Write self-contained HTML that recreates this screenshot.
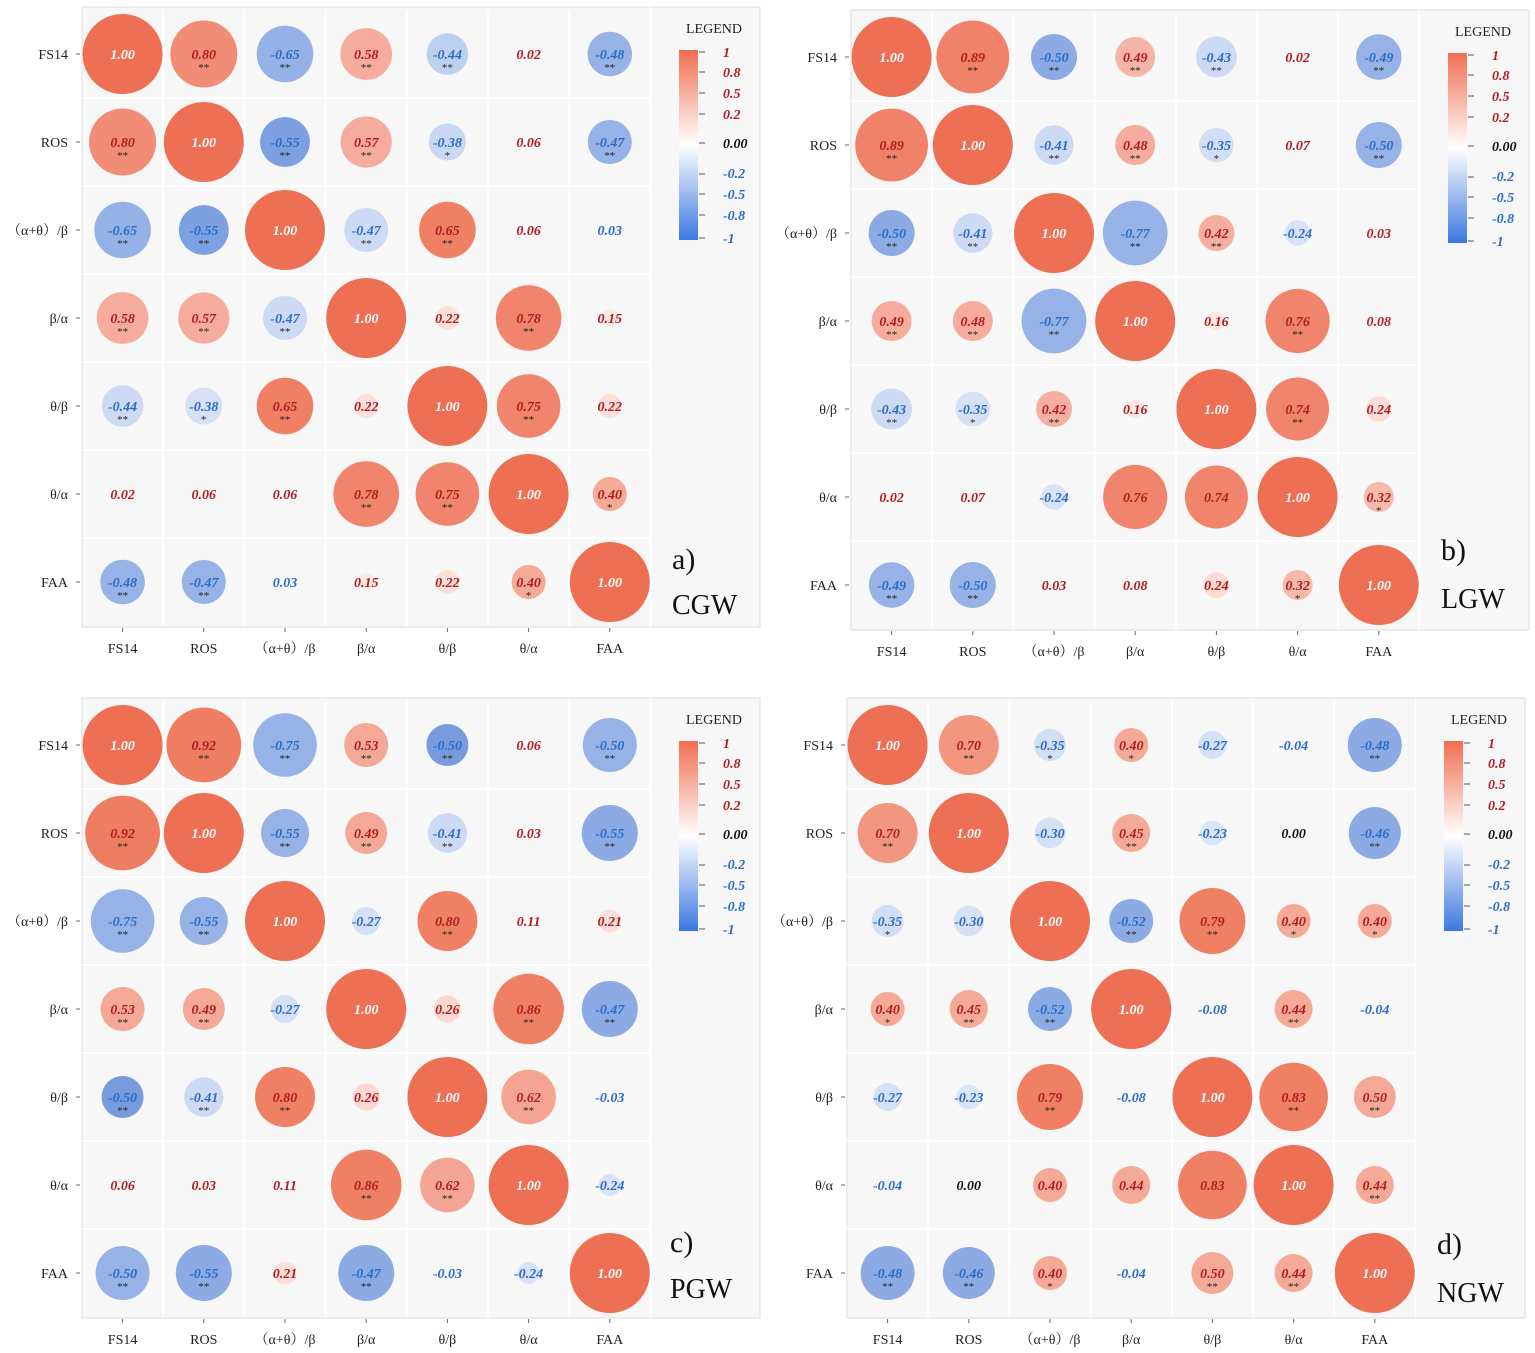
<!DOCTYPE html>
<html><head><meta charset="utf-8"><style>
body{margin:0;background:#fff;}
svg{display:block;font-family:"Liberation Serif","Noto Serif CJK SC",serif;}
.v{font-style:italic;font-weight:bold;font-size:14px;text-anchor:middle;}
.p{fill:#b01c22}.n{fill:#2a6cc6}.w{fill:#fff}.k{fill:#111}
.s{font-size:11px;text-anchor:middle;fill:#222}
.yl{font-size:14px;text-anchor:end;fill:#222}
.xl{font-size:14px;text-anchor:middle;fill:#222}
.lg{font-style:italic;font-weight:bold;font-size:14px}
.g{stroke:#fff;stroke-width:2}
</style></head><body>
<svg width="1535" height="1353" viewBox="0 0 1535 1353">
<defs>
<linearGradient id="cb" x1="0" y1="0" x2="0" y2="1">
<stop offset="0" stop-color="rgb(240,110,80)"/><stop offset="0.5" stop-color="#fff"/><stop offset="1" stop-color="rgb(60,120,225)"/>
</linearGradient>
<g id="frame">
<rect x="0" y="-3" width="678" height="620" fill="#f7f7f7" stroke="#ddd"/>
<g class="g"><line x1="81.2" y1="0" x2="81.2" y2="616"/><line x1="162.4" y1="0" x2="162.4" y2="616"/><line x1="243.6" y1="0" x2="243.6" y2="616"/><line x1="324.8" y1="0" x2="324.8" y2="616"/><line x1="406" y1="0" x2="406" y2="616"/><line x1="487.2" y1="0" x2="487.2" y2="616"/><line x1="568.4" y1="-3" x2="568.4" y2="617"/>
<line x1="0" y1="88" x2="568" y2="88"/><line x1="0" y1="176" x2="568" y2="176"/><line x1="0" y1="264" x2="568" y2="264"/><line x1="0" y1="352" x2="568" y2="352"/><line x1="0" y1="440" x2="568" y2="440"/><line x1="0" y1="528" x2="568" y2="528"/></g>
<g stroke="#666"><line x1="-6" y1="44" x2="-2" y2="44"/><line x1="-6" y1="132" x2="-2" y2="132"/><line x1="-6" y1="220" x2="-2" y2="220"/><line x1="-6" y1="308" x2="-2" y2="308"/><line x1="-6" y1="396" x2="-2" y2="396"/><line x1="-6" y1="484" x2="-2" y2="484"/><line x1="-6" y1="572" x2="-2" y2="572"/>
<line x1="40.6" y1="618" x2="40.6" y2="622"/><line x1="121.8" y1="618" x2="121.8" y2="622"/><line x1="203" y1="618" x2="203" y2="622"/><line x1="284.2" y1="618" x2="284.2" y2="622"/><line x1="365.4" y1="618" x2="365.4" y2="622"/><line x1="446.6" y1="618" x2="446.6" y2="622"/><line x1="527.8" y1="618" x2="527.8" y2="622"/></g>
<text class="yl" x="-14" y="49">FS14</text><text class="yl" x="-14" y="137">ROS</text><text class="yl" x="-14" y="225">（α+θ）/β</text><text class="yl" x="-14" y="313">β/α</text><text class="yl" x="-14" y="401">θ/β</text><text class="yl" x="-14" y="489">θ/α</text><text class="yl" x="-14" y="577">FAA</text>
<text class="xl" x="40.6" y="643">FS14</text><text class="xl" x="121.8" y="643">ROS</text><text class="xl" x="203" y="643">（α+θ）/β</text><text class="xl" x="284.2" y="643">β/α</text><text class="xl" x="365.4" y="643">θ/β</text><text class="xl" x="446.6" y="643">θ/α</text><text class="xl" x="527.8" y="643">FAA</text>
<text x="632" y="23" font-size="14" text-anchor="middle" fill="#222">LEGEND</text>
<rect x="597" y="40" width="19" height="190" fill="url(#cb)"/>
<g stroke="#555"><line x1="617" y1="42" x2="623" y2="42"/><line x1="617" y1="62" x2="623" y2="62"/><line x1="617" y1="83" x2="623" y2="83"/><line x1="617" y1="104" x2="623" y2="104"/><line x1="617" y1="133" x2="623" y2="133"/><line x1="617" y1="164" x2="623" y2="164"/><line x1="617" y1="184" x2="623" y2="184"/><line x1="617" y1="205" x2="623" y2="205"/><line x1="617" y1="228" x2="623" y2="228"/></g>
<text class="lg p" x="641" y="47">1</text><text class="lg p" x="641" y="67">0.8</text><text class="lg p" x="641" y="88">0.5</text><text class="lg p" x="641" y="109">0.2</text><text class="lg k" x="641" y="138">0.00</text><text class="lg n" x="641" y="168">-0.2</text><text class="lg n" x="641" y="189">-0.5</text><text class="lg n" x="641" y="210">-0.8</text><text class="lg n" x="641" y="233">-1</text>
</g>
</defs>

<!-- Panel A -->
<g transform="translate(82,10)">
<use href="#frame"/>
<text x="590" y="559" font-size="30" fill="#111">a)</text><text x="590" y="604" font-size="28" fill="#111">CGW</text>
<circle cx="40.6" cy="44" r="40" fill="rgb(238,112,84)"/><text class="v w" x="40.6" y="49">1.00</text>
<circle cx="121.8" cy="44" r="33.5" fill="rgb(241,140,118)"/><text class="v p" x="121.8" y="49">0.80</text><text class="s" x="121.8" y="61">**</text>
<circle cx="203" cy="44" r="28.3" fill="rgb(148,178,230)"/><text class="v n" x="203" y="49">-0.65</text><text class="s" x="203" y="61">**</text>
<circle cx="284.2" cy="44" r="25.9" fill="rgb(245,172,156)"/><text class="v p" x="284.2" y="49">0.58</text><text class="s" x="284.2" y="61">**</text>
<circle cx="365.4" cy="44" r="20.8" fill="rgb(190,208,240)"/><text class="v n" x="365.4" y="49">-0.44</text><text class="s" x="365.4" y="61">**</text>
<text class="v p" x="446.6" y="49">0.02</text>
<circle cx="527.8" cy="44" r="22.3" fill="rgb(150,178,230)"/><text class="v n" x="527.8" y="49">-0.48</text><text class="s" x="527.8" y="61">**</text>

<circle cx="40.6" cy="132" r="33.5" fill="rgb(241,140,118)"/><text class="v p" x="40.6" y="137">0.80</text><text class="s" x="40.6" y="149">**</text>
<circle cx="121.8" cy="132" r="40" fill="rgb(238,112,84)"/><text class="v w" x="121.8" y="137">1.00</text>
<circle cx="203" cy="132" r="24.9" fill="rgb(125,160,225)"/><text class="v n" x="203" y="137">-0.55</text><text class="s" x="203" y="149">**</text>
<circle cx="284.2" cy="132" r="25.6" fill="rgb(245,172,156)"/><text class="v p" x="284.2" y="137">0.57</text><text class="s" x="284.2" y="149">**</text>
<circle cx="365.4" cy="132" r="18.5" fill="rgb(200,215,242)"/><text class="v n" x="365.4" y="137">-0.38</text><text class="s" x="365.4" y="149">*</text>
<text class="v p" x="446.6" y="137">0.06</text>
<circle cx="527.8" cy="132" r="22" fill="rgb(150,178,230)"/><text class="v n" x="527.8" y="137">-0.47</text><text class="s" x="527.8" y="149">**</text>

<circle cx="40.6" cy="220" r="28.3" fill="rgb(148,178,230)"/><text class="v n" x="40.6" y="225">-0.65</text><text class="s" x="40.6" y="237">**</text>
<circle cx="121.8" cy="220" r="24.9" fill="rgb(125,160,225)"/><text class="v n" x="121.8" y="225">-0.55</text><text class="s" x="121.8" y="237">**</text>
<circle cx="203" cy="220" r="40" fill="rgb(238,112,84)"/><text class="v w" x="203" y="225">1.00</text>
<circle cx="284.2" cy="220" r="22" fill="rgb(205,218,243)"/><text class="v n" x="284.2" y="225">-0.47</text><text class="s" x="284.2" y="237">**</text>
<circle cx="365.4" cy="220" r="28.3" fill="rgb(240,128,100)"/><text class="v p" x="365.4" y="225">0.65</text><text class="s" x="365.4" y="237">**</text>
<text class="v p" x="446.6" y="225">0.06</text>
<text class="v n" x="527.8" y="225">0.03</text>

<circle cx="40.6" cy="308" r="25.9" fill="rgb(245,172,156)"/><text class="v p" x="40.6" y="313">0.58</text><text class="s" x="40.6" y="325">**</text>
<circle cx="121.8" cy="308" r="25.6" fill="rgb(245,172,156)"/><text class="v p" x="121.8" y="313">0.57</text><text class="s" x="121.8" y="325">**</text>
<circle cx="203" cy="308" r="22" fill="rgb(205,218,243)"/><text class="v n" x="203" y="313">-0.47</text><text class="s" x="203" y="325">**</text>
<circle cx="284.2" cy="308" r="40" fill="rgb(238,112,84)"/><text class="v w" x="284.2" y="313">1.00</text>
<circle cx="365.4" cy="308" r="11.9" fill="rgb(251,223,217)"/><text class="v p" x="365.4" y="313">0.22</text>
<circle cx="446.6" cy="308" r="32.8" fill="rgb(240,132,108)"/><text class="v p" x="446.6" y="313">0.78</text><text class="s" x="446.6" y="325">**</text>
<circle cx="527.8" cy="308" r="8.8" fill="rgb(252,233,229)"/><text class="v p" x="527.8" y="313">0.15</text>

<circle cx="40.6" cy="396" r="20.8" fill="rgb(205,218,243)"/><text class="v n" x="40.6" y="401">-0.44</text><text class="s" x="40.6" y="413">**</text>
<circle cx="121.8" cy="396" r="18.5" fill="rgb(215,225,245)"/><text class="v n" x="121.8" y="401">-0.38</text><text class="s" x="121.8" y="413">*</text>
<circle cx="203" cy="396" r="28.3" fill="rgb(240,128,100)"/><text class="v p" x="203" y="401">0.65</text><text class="s" x="203" y="413">**</text>
<circle cx="284.2" cy="396" r="11.9" fill="rgb(251,223,217)"/><text class="v p" x="284.2" y="401">0.22</text>
<circle cx="365.4" cy="396" r="40" fill="rgb(238,112,84)"/><text class="v w" x="365.4" y="401">1.00</text>
<circle cx="446.6" cy="396" r="31.8" fill="rgb(240,132,108)"/><text class="v p" x="446.6" y="401">0.75</text><text class="s" x="446.6" y="413">**</text>
<circle cx="527.8" cy="396" r="11.9" fill="rgb(251,223,217)"/><text class="v p" x="527.8" y="401">0.22</text>

<text class="v p" x="40.6" y="489">0.02</text>
<text class="v p" x="121.8" y="489">0.06</text>
<text class="v p" x="203" y="489">0.06</text>
<circle cx="284.2" cy="484" r="32.8" fill="rgb(240,132,108)"/><text class="v p" x="284.2" y="489">0.78</text><text class="s" x="284.2" y="501">**</text>
<circle cx="365.4" cy="484" r="31.8" fill="rgb(240,132,108)"/><text class="v p" x="365.4" y="489">0.75</text><text class="s" x="365.4" y="501">**</text>
<circle cx="446.6" cy="484" r="40" fill="rgb(238,112,84)"/><text class="v w" x="446.6" y="489">1.00</text>
<circle cx="527.8" cy="484" r="17" fill="rgb(244,170,150)"/><text class="v p" x="527.8" y="489">0.40</text><text class="s" x="527.8" y="501">*</text>

<circle cx="40.6" cy="572" r="22.3" fill="rgb(150,178,230)"/><text class="v n" x="40.6" y="577">-0.48</text><text class="s" x="40.6" y="589">**</text>
<circle cx="121.8" cy="572" r="22" fill="rgb(150,178,230)"/><text class="v n" x="121.8" y="577">-0.47</text><text class="s" x="121.8" y="589">**</text>
<text class="v n" x="203" y="577">0.03</text>
<circle cx="284.2" cy="572" r="8.8" fill="rgb(252,233,229)"/><text class="v p" x="284.2" y="577">0.15</text>
<circle cx="365.4" cy="572" r="11.9" fill="rgb(251,223,217)"/><text class="v p" x="365.4" y="577">0.22</text>
<circle cx="446.6" cy="572" r="17" fill="rgb(244,170,150)"/><text class="v p" x="446.6" y="577">0.40</text><text class="s" x="446.6" y="589">*</text>
<circle cx="527.8" cy="572" r="40" fill="rgb(238,112,84)"/><text class="v w" x="527.8" y="577">1.00</text>
</g>

<!-- Panel B -->
<g transform="translate(851,13)">
<use href="#frame"/>
<text x="590" y="547" font-size="30" fill="#111">b)</text><text x="590" y="595" font-size="28" fill="#111">LGW</text>
<circle cx="40.6" cy="44" r="40" fill="rgb(238,112,84)"/><text class="v w" x="40.6" y="49">1.00</text>
<circle cx="121.8" cy="44" r="36.4" fill="rgb(240,130,105)"/><text class="v p" x="121.8" y="49">0.89</text><text class="s" x="121.8" y="61">**</text>
<circle cx="203" cy="44" r="23" fill="rgb(140,170,228)"/><text class="v n" x="203" y="49">-0.50</text><text class="s" x="203" y="61">**</text>
<circle cx="284.2" cy="44" r="20" fill="rgb(246,180,166)"/><text class="v p" x="284.2" y="49">0.49</text><text class="s" x="284.2" y="61">**</text>
<circle cx="365.4" cy="44" r="20.4" fill="rgb(205,218,243)"/><text class="v n" x="365.4" y="49">-0.43</text><text class="s" x="365.4" y="61">**</text>
<text class="v p" x="446.6" y="49">0.02</text>
<circle cx="527.8" cy="44" r="22.7" fill="rgb(150,178,230)"/><text class="v n" x="527.8" y="49">-0.49</text><text class="s" x="527.8" y="61">**</text>

<circle cx="40.6" cy="132" r="36.4" fill="rgb(240,130,105)"/><text class="v p" x="40.6" y="137">0.89</text><text class="s" x="40.6" y="149">**</text>
<circle cx="121.8" cy="132" r="40" fill="rgb(238,112,84)"/><text class="v w" x="121.8" y="137">1.00</text>
<circle cx="203" cy="132" r="19.7" fill="rgb(205,218,243)"/><text class="v n" x="203" y="137">-0.41</text><text class="s" x="203" y="149">**</text>
<circle cx="284.2" cy="132" r="20" fill="rgb(245,172,156)"/><text class="v p" x="284.2" y="137">0.48</text><text class="s" x="284.2" y="149">**</text>
<circle cx="365.4" cy="132" r="17.3" fill="rgb(210,222,244)"/><text class="v n" x="365.4" y="137">-0.35</text><text class="s" x="365.4" y="149">*</text>
<text class="v p" x="446.6" y="137">0.07</text>
<circle cx="527.8" cy="132" r="23" fill="rgb(150,178,230)"/><text class="v n" x="527.8" y="137">-0.50</text><text class="s" x="527.8" y="149">**</text>

<circle cx="40.6" cy="220" r="23" fill="rgb(140,170,228)"/><text class="v n" x="40.6" y="225">-0.50</text><text class="s" x="40.6" y="237">**</text>
<circle cx="121.8" cy="220" r="19.7" fill="rgb(205,218,243)"/><text class="v n" x="121.8" y="225">-0.41</text><text class="s" x="121.8" y="237">**</text>
<circle cx="203" cy="220" r="40" fill="rgb(238,112,84)"/><text class="v w" x="203" y="225">1.00</text>
<circle cx="284.2" cy="220" r="32.4" fill="rgb(150,178,230)"/><text class="v n" x="284.2" y="225">-0.77</text><text class="s" x="284.2" y="237">**</text>
<circle cx="365.4" cy="220" r="18" fill="rgb(245,175,160)"/><text class="v p" x="365.4" y="225">0.42</text><text class="s" x="365.4" y="237">**</text>
<circle cx="446.6" cy="220" r="12.8" fill="rgb(217,227,247)"/><text class="v n" x="446.6" y="225">-0.24</text>
<text class="v p" x="527.8" y="225">0.03</text>

<circle cx="40.6" cy="308" r="20" fill="rgb(245,172,156)"/><text class="v p" x="40.6" y="313">0.49</text><text class="s" x="40.6" y="325">**</text>
<circle cx="121.8" cy="308" r="20" fill="rgb(245,172,156)"/><text class="v p" x="121.8" y="313">0.48</text><text class="s" x="121.8" y="325">**</text>
<circle cx="203" cy="308" r="32.4" fill="rgb(150,178,230)"/><text class="v n" x="203" y="313">-0.77</text><text class="s" x="203" y="325">**</text>
<circle cx="284.2" cy="308" r="40" fill="rgb(238,112,84)"/><text class="v w" x="284.2" y="313">1.00</text>
<circle cx="365.4" cy="308" r="9.2" fill="rgb(252,231,227)"/><text class="v p" x="365.4" y="313">0.16</text>
<circle cx="446.6" cy="308" r="32.1" fill="rgb(240,132,108)"/><text class="v p" x="446.6" y="313">0.76</text><text class="s" x="446.6" y="325">**</text>
<text class="v p" x="527.8" y="313">0.08</text>

<circle cx="40.6" cy="396" r="20.4" fill="rgb(205,218,243)"/><text class="v n" x="40.6" y="401">-0.43</text><text class="s" x="40.6" y="413">**</text>
<circle cx="121.8" cy="396" r="17.3" fill="rgb(215,225,245)"/><text class="v n" x="121.8" y="401">-0.35</text><text class="s" x="121.8" y="413">*</text>
<circle cx="203" cy="396" r="18" fill="rgb(245,175,160)"/><text class="v p" x="203" y="401">0.42</text><text class="s" x="203" y="413">**</text>
<circle cx="284.2" cy="396" r="9.2" fill="rgb(252,231,227)"/><text class="v p" x="284.2" y="401">0.16</text>
<circle cx="365.4" cy="396" r="40" fill="rgb(238,112,84)"/><text class="v w" x="365.4" y="401">1.00</text>
<circle cx="446.6" cy="396" r="31.5" fill="rgb(240,132,108)"/><text class="v p" x="446.6" y="401">0.74</text><text class="s" x="446.6" y="413">**</text>
<circle cx="527.8" cy="396" r="12.8" fill="rgb(251,220,213)"/><text class="v p" x="527.8" y="401">0.24</text>

<text class="v p" x="40.6" y="489">0.02</text>
<text class="v p" x="121.8" y="489">0.07</text>
<circle cx="203" cy="484" r="12.8" fill="rgb(217,227,247)"/><text class="v n" x="203" y="489">-0.24</text>
<circle cx="284.2" cy="484" r="32.1" fill="rgb(240,132,108)"/><text class="v p" x="284.2" y="489">0.76</text>
<circle cx="365.4" cy="484" r="31.5" fill="rgb(240,132,108)"/><text class="v p" x="365.4" y="489">0.74</text>
<circle cx="446.6" cy="484" r="40" fill="rgb(238,112,84)"/><text class="v w" x="446.6" y="489">1.00</text>
<circle cx="527.8" cy="484" r="15" fill="rgb(246,185,170)"/><text class="v p" x="527.8" y="489">0.32</text><text class="s" x="527.8" y="501">*</text>

<circle cx="40.6" cy="572" r="22.7" fill="rgb(150,178,230)"/><text class="v n" x="40.6" y="577">-0.49</text><text class="s" x="40.6" y="589">**</text>
<circle cx="121.8" cy="572" r="23" fill="rgb(150,178,230)"/><text class="v n" x="121.8" y="577">-0.50</text><text class="s" x="121.8" y="589">**</text>
<text class="v p" x="203" y="577">0.03</text>
<text class="v p" x="284.2" y="577">0.08</text>
<circle cx="365.4" cy="572" r="12.8" fill="rgb(251,220,213)"/><text class="v p" x="365.4" y="577">0.24</text>
<circle cx="446.6" cy="572" r="15" fill="rgb(246,185,170)"/><text class="v p" x="446.6" y="577">0.32</text><text class="s" x="446.6" y="589">*</text>
<circle cx="527.8" cy="572" r="40" fill="rgb(238,112,84)"/><text class="v w" x="527.8" y="577">1.00</text>
</g>

<!-- Panel C -->
<g transform="translate(82,701)">
<use href="#frame"/>
<text x="588" y="551" font-size="30" fill="#111">c)</text><text x="588" y="597" font-size="28" fill="#111">PGW</text>
<circle cx="40.6" cy="44" r="40" fill="rgb(238,112,84)"/><text class="v w" x="40.6" y="49">1.00</text>
<circle cx="121.8" cy="44" r="37.4" fill="rgb(239,125,98)"/><text class="v p" x="121.8" y="49">0.92</text><text class="s" x="121.8" y="61">**</text>
<circle cx="203" cy="44" r="31.8" fill="rgb(150,178,230)"/><text class="v n" x="203" y="49">-0.75</text><text class="s" x="203" y="61">**</text>
<circle cx="284.2" cy="44" r="22" fill="rgb(244,168,150)"/><text class="v p" x="284.2" y="49">0.53</text><text class="s" x="284.2" y="61">**</text>
<circle cx="365.4" cy="44" r="21" fill="rgb(120,155,222)"/><text class="v n" x="365.4" y="49">-0.50</text><text class="s" x="365.4" y="61">**</text>
<text class="v p" x="446.6" y="49">0.06</text>
<circle cx="527.8" cy="44" r="27" fill="rgb(150,178,230)"/><text class="v n" x="527.8" y="49">-0.50</text><text class="s" x="527.8" y="61">**</text>

<circle cx="40.6" cy="132" r="37.4" fill="rgb(239,125,98)"/><text class="v p" x="40.6" y="137">0.92</text><text class="s" x="40.6" y="149">**</text>
<circle cx="121.8" cy="132" r="40" fill="rgb(238,112,84)"/><text class="v w" x="121.8" y="137">1.00</text>
<circle cx="203" cy="132" r="24" fill="rgb(150,178,230)"/><text class="v n" x="203" y="137">-0.55</text><text class="s" x="203" y="149">**</text>
<circle cx="284.2" cy="132" r="21" fill="rgb(244,168,150)"/><text class="v p" x="284.2" y="137">0.49</text><text class="s" x="284.2" y="149">**</text>
<circle cx="365.4" cy="132" r="19.7" fill="rgb(205,218,243)"/><text class="v n" x="365.4" y="137">-0.41</text><text class="s" x="365.4" y="149">**</text>
<text class="v p" x="446.6" y="137">0.03</text>
<circle cx="527.8" cy="132" r="28" fill="rgb(140,170,228)"/><text class="v n" x="527.8" y="137">-0.55</text><text class="s" x="527.8" y="149">**</text>

<circle cx="40.6" cy="220" r="31.8" fill="rgb(150,178,230)"/><text class="v n" x="40.6" y="225">-0.75</text><text class="s" x="40.6" y="237">**</text>
<circle cx="121.8" cy="220" r="24" fill="rgb(150,178,230)"/><text class="v n" x="121.8" y="225">-0.55</text><text class="s" x="121.8" y="237">**</text>
<circle cx="203" cy="220" r="40" fill="rgb(238,112,84)"/><text class="v w" x="203" y="225">1.00</text>
<circle cx="284.2" cy="220" r="14" fill="rgb(212,224,246)"/><text class="v n" x="284.2" y="225">-0.27</text>
<circle cx="365.4" cy="220" r="30" fill="rgb(240,128,100)"/><text class="v p" x="365.4" y="225">0.80</text><text class="s" x="365.4" y="237">**</text>
<text class="v p" x="446.6" y="225">0.11</text>
<circle cx="527.8" cy="220" r="11.5" fill="rgb(251,224,218)"/><text class="v p" x="527.8" y="225">0.21</text>

<circle cx="40.6" cy="308" r="22" fill="rgb(244,168,150)"/><text class="v p" x="40.6" y="313">0.53</text><text class="s" x="40.6" y="325">**</text>
<circle cx="121.8" cy="308" r="21" fill="rgb(244,168,150)"/><text class="v p" x="121.8" y="313">0.49</text><text class="s" x="121.8" y="325">**</text>
<circle cx="203" cy="308" r="14" fill="rgb(212,224,246)"/><text class="v n" x="203" y="313">-0.27</text>
<circle cx="284.2" cy="308" r="40" fill="rgb(238,112,84)"/><text class="v w" x="284.2" y="313">1.00</text>
<circle cx="365.4" cy="308" r="13.6" fill="rgb(251,217,210)"/><text class="v p" x="365.4" y="313">0.26</text>
<circle cx="446.6" cy="308" r="35.3" fill="rgb(240,128,100)"/><text class="v p" x="446.6" y="313">0.86</text><text class="s" x="446.6" y="325">**</text>
<circle cx="527.8" cy="308" r="28" fill="rgb(140,170,228)"/><text class="v n" x="527.8" y="313">-0.47</text><text class="s" x="527.8" y="325">**</text>

<circle cx="40.6" cy="396" r="21" fill="rgb(120,155,222)"/><text class="v n" x="40.6" y="401">-0.50</text><text class="s" x="40.6" y="413">**</text>
<circle cx="121.8" cy="396" r="19.7" fill="rgb(205,218,243)"/><text class="v n" x="121.8" y="401">-0.41</text><text class="s" x="121.8" y="413">**</text>
<circle cx="203" cy="396" r="30" fill="rgb(240,128,100)"/><text class="v p" x="203" y="401">0.80</text><text class="s" x="203" y="413">**</text>
<circle cx="284.2" cy="396" r="13.6" fill="rgb(251,217,210)"/><text class="v p" x="284.2" y="401">0.26</text>
<circle cx="365.4" cy="396" r="40" fill="rgb(238,112,84)"/><text class="v w" x="365.4" y="401">1.00</text>
<circle cx="446.6" cy="396" r="27.3" fill="rgb(244,164,147)"/><text class="v p" x="446.6" y="401">0.62</text><text class="s" x="446.6" y="413">**</text>
<text class="v n" x="527.8" y="401">-0.03</text>

<text class="v p" x="40.6" y="489">0.06</text>
<text class="v p" x="121.8" y="489">0.03</text>
<text class="v p" x="203" y="489">0.11</text>
<circle cx="284.2" cy="484" r="35.3" fill="rgb(240,128,100)"/><text class="v p" x="284.2" y="489">0.86</text><text class="s" x="284.2" y="501">**</text>
<circle cx="365.4" cy="484" r="27.3" fill="rgb(244,164,147)"/><text class="v p" x="365.4" y="489">0.62</text><text class="s" x="365.4" y="501">**</text>
<circle cx="446.6" cy="484" r="40" fill="rgb(238,112,84)"/><text class="v w" x="446.6" y="489">1.00</text>
<circle cx="527.8" cy="484" r="11" fill="rgb(217,227,247)"/><text class="v n" x="527.8" y="489">-0.24</text>

<circle cx="40.6" cy="572" r="27" fill="rgb(150,178,230)"/><text class="v n" x="40.6" y="577">-0.50</text><text class="s" x="40.6" y="589">**</text>
<circle cx="121.8" cy="572" r="28" fill="rgb(140,170,228)"/><text class="v n" x="121.8" y="577">-0.55</text><text class="s" x="121.8" y="589">**</text>
<circle cx="203" cy="572" r="11.5" fill="rgb(251,224,218)"/><text class="v p" x="203" y="577">0.21</text>
<circle cx="284.2" cy="572" r="28" fill="rgb(140,170,228)"/><text class="v n" x="284.2" y="577">-0.47</text><text class="s" x="284.2" y="589">**</text>
<text class="v n" x="365.4" y="577">-0.03</text>
<circle cx="446.6" cy="572" r="11" fill="rgb(217,227,247)"/><text class="v n" x="446.6" y="577">-0.24</text>
<circle cx="527.8" cy="572" r="40" fill="rgb(238,112,84)"/><text class="v w" x="527.8" y="577">1.00</text>
</g>

<!-- Panel D -->
<g transform="translate(847,701)">
<use href="#frame"/>
<text x="590" y="553" font-size="30" fill="#111">d)</text><text x="590" y="601" font-size="28" fill="#111">NGW</text>
<circle cx="40.6" cy="44" r="40" fill="rgb(238,112,84)"/><text class="v w" x="40.6" y="49">1.00</text>
<circle cx="121.8" cy="44" r="30" fill="rgb(242,150,128)"/><text class="v p" x="121.8" y="49">0.70</text><text class="s" x="121.8" y="61">**</text>
<circle cx="203" cy="44" r="16" fill="rgb(210,222,244)"/><text class="v n" x="203" y="49">-0.35</text><text class="s" x="203" y="61">*</text>
<circle cx="284.2" cy="44" r="17" fill="rgb(244,170,150)"/><text class="v p" x="284.2" y="49">0.40</text><text class="s" x="284.2" y="61">*</text>
<circle cx="365.4" cy="44" r="14" fill="rgb(212,224,246)"/><text class="v n" x="365.4" y="49">-0.27</text>
<text class="v n" x="446.6" y="49">-0.04</text>
<circle cx="527.8" cy="44" r="27" fill="rgb(140,170,228)"/><text class="v n" x="527.8" y="49">-0.48</text><text class="s" x="527.8" y="61">**</text>

<circle cx="40.6" cy="132" r="30" fill="rgb(242,150,128)"/><text class="v p" x="40.6" y="137">0.70</text><text class="s" x="40.6" y="149">**</text>
<circle cx="121.8" cy="132" r="40" fill="rgb(238,112,84)"/><text class="v w" x="121.8" y="137">1.00</text>
<circle cx="203" cy="132" r="15.3" fill="rgb(215,225,245)"/><text class="v n" x="203" y="137">-0.30</text>
<circle cx="284.2" cy="132" r="19" fill="rgb(244,170,150)"/><text class="v p" x="284.2" y="137">0.45</text><text class="s" x="284.2" y="149">**</text>
<circle cx="365.4" cy="132" r="12.4" fill="rgb(218,229,247)"/><text class="v n" x="365.4" y="137">-0.23</text>
<text class="v k" x="446.6" y="137">0.00</text>
<circle cx="527.8" cy="132" r="26" fill="rgb(140,170,228)"/><text class="v n" x="527.8" y="137">-0.46</text><text class="s" x="527.8" y="149">**</text>

<circle cx="40.6" cy="220" r="16" fill="rgb(210,222,244)"/><text class="v n" x="40.6" y="225">-0.35</text><text class="s" x="40.6" y="237">*</text>
<circle cx="121.8" cy="220" r="15.3" fill="rgb(215,225,245)"/><text class="v n" x="121.8" y="225">-0.30</text>
<circle cx="203" cy="220" r="40" fill="rgb(238,112,84)"/><text class="v w" x="203" y="225">1.00</text>
<circle cx="284.2" cy="220" r="22" fill="rgb(140,170,228)"/><text class="v n" x="284.2" y="225">-0.52</text><text class="s" x="284.2" y="237">**</text>
<circle cx="365.4" cy="220" r="33" fill="rgb(240,128,100)"/><text class="v p" x="365.4" y="225">0.79</text><text class="s" x="365.4" y="237">**</text>
<circle cx="446.6" cy="220" r="17" fill="rgb(244,170,150)"/><text class="v p" x="446.6" y="225">0.40</text><text class="s" x="446.6" y="237">*</text>
<circle cx="527.8" cy="220" r="17" fill="rgb(244,170,150)"/><text class="v p" x="527.8" y="225">0.40</text><text class="s" x="527.8" y="237">*</text>

<circle cx="40.6" cy="308" r="17" fill="rgb(244,170,150)"/><text class="v p" x="40.6" y="313">0.40</text><text class="s" x="40.6" y="325">*</text>
<circle cx="121.8" cy="308" r="19" fill="rgb(244,170,150)"/><text class="v p" x="121.8" y="313">0.45</text><text class="s" x="121.8" y="325">**</text>
<circle cx="203" cy="308" r="22" fill="rgb(140,170,228)"/><text class="v n" x="203" y="313">-0.52</text><text class="s" x="203" y="325">**</text>
<circle cx="284.2" cy="308" r="40" fill="rgb(238,112,84)"/><text class="v w" x="284.2" y="313">1.00</text>
<text class="v n" x="365.4" y="313">-0.08</text>
<circle cx="446.6" cy="308" r="19" fill="rgb(244,170,150)"/><text class="v p" x="446.6" y="313">0.44</text><text class="s" x="446.6" y="325">**</text>
<text class="v n" x="527.8" y="313">-0.04</text>

<circle cx="40.6" cy="396" r="14" fill="rgb(212,224,246)"/><text class="v n" x="40.6" y="401">-0.27</text>
<circle cx="121.8" cy="396" r="12.4" fill="rgb(218,229,247)"/><text class="v n" x="121.8" y="401">-0.23</text>
<circle cx="203" cy="396" r="33" fill="rgb(240,128,100)"/><text class="v p" x="203" y="401">0.79</text><text class="s" x="203" y="413">**</text>
<text class="v n" x="284.2" y="401">-0.08</text>
<circle cx="365.4" cy="396" r="40" fill="rgb(238,112,84)"/><text class="v w" x="365.4" y="401">1.00</text>
<circle cx="446.6" cy="396" r="34.3" fill="rgb(240,128,100)"/><text class="v p" x="446.6" y="401">0.83</text><text class="s" x="446.6" y="413">**</text>
<circle cx="527.8" cy="396" r="21" fill="rgb(244,168,150)"/><text class="v p" x="527.8" y="401">0.50</text><text class="s" x="527.8" y="413">**</text>

<text class="v n" x="40.6" y="489">-0.04</text>
<text class="v k" x="121.8" y="489">0.00</text>
<circle cx="203" cy="484" r="17" fill="rgb(244,170,150)"/><text class="v p" x="203" y="489">0.40</text>
<circle cx="284.2" cy="484" r="19" fill="rgb(244,170,150)"/><text class="v p" x="284.2" y="489">0.44</text>
<circle cx="365.4" cy="484" r="34.3" fill="rgb(240,128,100)"/><text class="v p" x="365.4" y="489">0.83</text>
<circle cx="446.6" cy="484" r="40" fill="rgb(238,112,84)"/><text class="v w" x="446.6" y="489">1.00</text>
<circle cx="527.8" cy="484" r="19" fill="rgb(244,170,150)"/><text class="v p" x="527.8" y="489">0.44</text><text class="s" x="527.8" y="501">**</text>

<circle cx="40.6" cy="572" r="27" fill="rgb(140,170,228)"/><text class="v n" x="40.6" y="577">-0.48</text><text class="s" x="40.6" y="589">**</text>
<circle cx="121.8" cy="572" r="26" fill="rgb(140,170,228)"/><text class="v n" x="121.8" y="577">-0.46</text><text class="s" x="121.8" y="589">**</text>
<circle cx="203" cy="572" r="17" fill="rgb(244,170,150)"/><text class="v p" x="203" y="577">0.40</text><text class="s" x="203" y="589">*</text>
<text class="v n" x="284.2" y="577">-0.04</text>
<circle cx="365.4" cy="572" r="21" fill="rgb(244,168,150)"/><text class="v p" x="365.4" y="577">0.50</text><text class="s" x="365.4" y="589">**</text>
<circle cx="446.6" cy="572" r="19" fill="rgb(244,170,150)"/><text class="v p" x="446.6" y="577">0.44</text><text class="s" x="446.6" y="589">**</text>
<circle cx="527.8" cy="572" r="40" fill="rgb(238,112,84)"/><text class="v w" x="527.8" y="577">1.00</text>
</g>
</svg>
</body></html>
